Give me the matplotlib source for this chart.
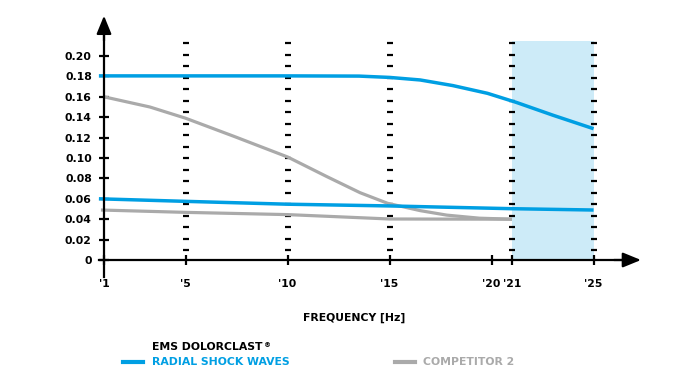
import matplotlib
matplotlib.use("Agg")
import matplotlib.pyplot as plt
import numpy as np

# ---- data ----
x_ticks = [1, 5, 10, 15, 20, 21, 25]
x_tick_labels = ["'1", "'5", "'10", "'15", "'20", "'21", "'25"]
y_ticks = [0, 0.02, 0.04, 0.06, 0.08, 0.10, 0.12, 0.14, 0.16, 0.18, 0.20]
y_tick_labels = ["0", "0.02", "0.04", "0.06", "0.08", "0.10", "0.12", "0.14", "0.16", "0.18", "0.20"]
grid_x = [5, 10, 15, 21, 25]
highlight = (21, 25)

ems_top_x = [0.75, 5, 10, 13.5, 15, 16.5, 18.1, 19.8, 21.2, 23, 25]
ems_top_y = [0.1805, 0.1805, 0.1805, 0.1803, 0.1790, 0.1765, 0.1710, 0.1634, 0.1546, 0.1420, 0.1287]
ems_bot_x = [0.75, 5, 10, 15, 21, 25]
ems_bot_y = [0.0600, 0.0575, 0.0547, 0.0530, 0.0503, 0.0490]
comp_top_x = [1, 3.25, 5, 7.4, 10, 11.9, 13.55, 14.9, 16.5, 17.8, 19.4, 21]
comp_top_y = [0.160, 0.150, 0.139, 0.121, 0.1010, 0.0820, 0.066, 0.0556, 0.0484, 0.044, 0.041, 0.040]
comp_bot_x = [0.85, 5, 10, 12, 15, 21]
comp_bot_y = [0.0490, 0.0467, 0.0445, 0.0428, 0.0402, 0.0400]

BLUE = "#009fe3"
GRAY = "#aaaaaa"
SHADE = "#cdebf8"
FONT = ["DejaVu Sans"]
FS = 7.8
FW = "bold"

W, H = 700, 378
fig = plt.figure(figsize=(W / 100, H / 100), dpi=100)

# pixel layout -> axes
PX_X1, PX_PER_X = 104, 20.4
PX_Y0, PX_PER_Y = 260, 1020
L, R, T, B = 90, 650, 10, 285
ax = fig.add_axes([L / W, (H - B) / H, (R - L) / W, (B - T) / H])
ax.set_xlim(1 + (L - PX_X1) / PX_PER_X, 1 + (R - PX_X1) / PX_PER_X)
ax.set_ylim((PX_Y0 - B) / PX_PER_Y, (PX_Y0 - T) / PX_PER_Y)
ax.patch.set_alpha(0)

# highlight band
ax.fill_between(list(highlight), 0, 0.2147, color=SHADE, lw=0, zorder=1)

# dashed vertical guides (horizontal dash marks)
dash_y = np.linspace(0.0098, 0.2127, 19)
for gx in grid_x:
    ax.plot([gx] * len(dash_y), dash_y, ls="none", marker="_", ms=4.2, mew=1.6,
            color="black", zorder=2)

# lines
ax.plot(comp_top_x, comp_top_y, color=GRAY, lw=2.3, zorder=3, solid_capstyle="butt",
        solid_joinstyle="round")
ax.plot(comp_bot_x, comp_bot_y, color=GRAY, lw=2.3, zorder=3, solid_capstyle="butt",
        solid_joinstyle="round")
ax.plot(ems_top_x, ems_top_y, color=BLUE, lw=2.5, zorder=4, solid_capstyle="butt",
        solid_joinstyle="round")
ax.plot(ems_bot_x, ems_bot_y, color=BLUE, lw=2.5, zorder=4, solid_capstyle="butt",
        solid_joinstyle="round")

# axes spines
for s in ["top", "right"]:
    ax.spines[s].set_visible(False)
ax.spines["left"].set_position(("data", 1))
ax.spines["bottom"].set_position(("data", 0))
ax.spines["left"].set_bounds(-0.0167, 0.225)
ax.spines["bottom"].set_bounds(0.755, 26.5)
for s in ["left", "bottom"]:
    ax.spines[s].set_linewidth(1.6)
    ax.spines[s].set_zorder(5)

ax.annotate("", xy=(1, 0.2395), xytext=(1, 0.215),
            arrowprops=dict(arrowstyle="-|>,head_length=1.1,head_width=0.45",
                            color="black", lw=1.6, shrinkA=0, shrinkB=0), zorder=6)
ax.annotate("", xy=(1 + (641 - PX_X1) / PX_PER_X, 0), xytext=(26, 0),
            arrowprops=dict(arrowstyle="-|>,head_length=1.1,head_width=0.45",
                            color="black", lw=1.6, shrinkA=0, shrinkB=0), zorder=6)

ax.set_xticks(x_ticks)
ax.set_xticklabels(x_tick_labels)
ax.set_yticks(y_ticks)
ax.set_yticklabels(y_tick_labels)
ax.tick_params(axis="both", direction="inout", length=7.5, width=1.6, color="black")
ax.tick_params(axis="y", pad=5)
ax.tick_params(axis="x", pad=10)
for lab in ax.get_xticklabels() + ax.get_yticklabels():
    lab.set_fontfamily(FONT)
    lab.set_fontsize(FS)
    lab.set_fontweight(FW)

# x label
fig.text(354 / W, 1 - 317.5 / H, "FREQUENCY [Hz]", ha="center", va="center",
         fontsize=FS, fontweight=FW, family=FONT)

# legend
t_ems = fig.text(152 / W, 1 - 347 / H, "EMS DOLORCLAST", ha="left", va="center",
                 fontsize=FS, fontweight=FW, family=FONT, color="black")
ax.annotate("\u00ae", xy=(1, 1), xycoords=t_ems, xytext=(1, 0), textcoords="offset points",
            ha="left", va="top", fontsize=5, fontweight=FW, family=FONT, color="black",
            annotation_clip=False)
fig.text(152 / W, 1 - 362 / H, "RADIAL SHOCK WAVES", ha="left", va="center",
         fontsize=FS, fontweight=FW, family=FONT, color=BLUE)
fig.text(423 / W, 1 - 362 / H, "COMPETITOR 2", ha="left", va="center",
         fontsize=FS, fontweight=FW, family=FONT, color=GRAY)
fig.add_artist(plt.Line2D([123 / W, 143 / W], [1 - 362 / H] * 2, color=BLUE, lw=3))
fig.add_artist(plt.Line2D([395 / W, 415 / W], [1 - 362 / H] * 2, color=GRAY, lw=3))

fig.savefig("out.png", dpi=100)
